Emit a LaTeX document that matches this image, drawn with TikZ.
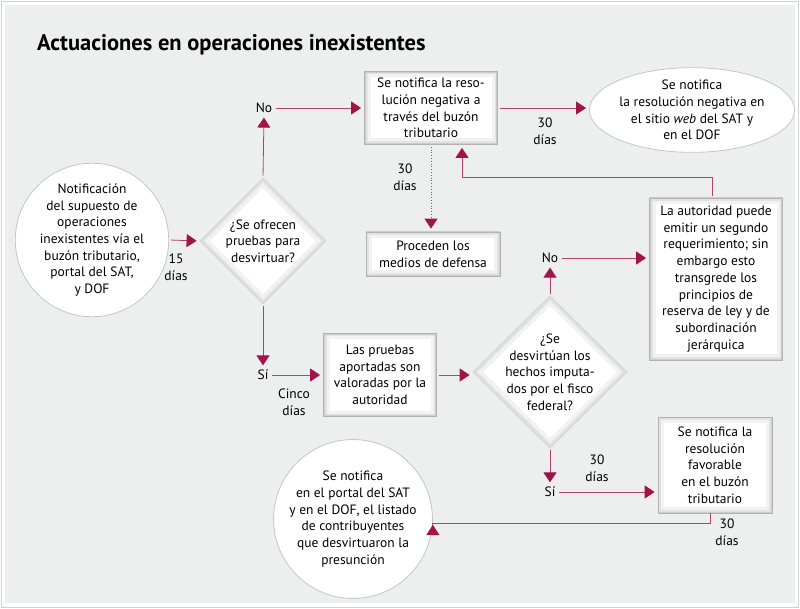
\documentclass[tikz,border=0pt]{standalone}
\usepackage{fontspec}
\setmainfont{PT Sans}
\usetikzlibrary{arrows.meta, shapes.geometric, calc}

\definecolor{bgcol}{RGB}{237,238,238}
\definecolor{arrowcol}{RGB}{160,20,70}
\newcommand{\boxfont}{\fontsize{13.5}{16.7}\selectfont}
\pgfdeclareradialshading{rimshade}{\pgfpoint{0bp}{0bp}}{color(0bp)=(white); color(26bp)=(white); color(30bp)=(gray!28); color(35.4bp)=(gray!50); color(50bp)=(gray!50)}

\tikzset{
    shadowrim/.style={path picture={
        \draw[gray!10, line width=12pt] (path picture bounding box.south west) rectangle (path picture bounding box.north east);
        \draw[gray!22, line width=6pt] (path picture bounding box.south west) rectangle (path picture bounding box.north east);
        \draw[gray!40, line width=2.5pt] (path picture bounding box.south west) rectangle (path picture bounding box.north east);
    }},
    diamondrim/.style={path picture={
        \draw[gray!10, line width=14pt] (path picture bounding box.north) -- (path picture bounding box.east) -- (path picture bounding box.south) -- (path picture bounding box.west) -- cycle;
        \draw[gray!24, line width=6pt] (path picture bounding box.north) -- (path picture bounding box.east) -- (path picture bounding box.south) -- (path picture bounding box.west) -- cycle;
    }},
    box/.style={rectangle, fill=white, draw=gray!60, line width=0.8pt, align=center, font=\boxfont, inner sep=2pt, shadowrim},
    decision/.style={diamond, fill=white, draw=gray!35, line width=0.8pt, align=center, font=\boxfont, inner sep=-4pt, diamondrim},
    roundnote/.style={shade, shading=rimshade, draw=gray!45, line width=0.8pt, align=center, font=\boxfont, inner sep=0pt},
    answer/.style={font=\boxfont, inner sep=1.5pt},
    days/.style={font=\boxfont, align=center, inner sep=0pt},
    flow/.style={draw=arrowcol!80, line width=0.8pt, shorten <=2pt, shorten >=3pt,
        -{Triangle[length=10pt, width=13pt, color=arrowcol]}},
}

\begin{document}
\begin{tikzpicture}[x=1pt, y=-1pt]
\useasboundingbox (0,0) rectangle (800,609);
\fill[white] (0,0) rectangle (800,609);
\draw[gray!35, line width=0.8pt] (1,1) rectangle (798,607);
\fill[bgcol] (5,5) rectangle (795,603);

\node[anchor=base west, font=\fontsize{22.5}{26}\selectfont\bfseries, inner sep=0pt] (title) at (37,51) {Actuaciones en operaciones inexistentes};

% nodos
\node[roundnote, circle, minimum size=130pt] (start) at (92,240)
    {Notificación\\del supuesto de\\operaciones\\inexistentes vía el\\buzón tributario,\\portal del SAT,\\y DOF};
\node[decision, minimum width=126pt, minimum height=126pt] (offer) at (263,241) {¿Se ofrecen\\pruebas para\\desvirtuar?};
\node[box, minimum width=133pt, minimum height=73pt] (negbox) at (431,108)
    {Se notifica la reso-\\lución negativa a\\través del buzón\\tributario};
\node[roundnote, ellipse, minimum width=176pt, minimum height=76pt] (webnote) at (692,110)
    {Se notifica\\la resolución negativa en\\el sitio \emph{web} del SAT y\\en el DOF};
\node[box, minimum width=134pt, minimum height=44pt] (defense) at (433,254) {Proceden los\\medios de defensa};
\node[box, minimum width=133pt, minimum height=162pt] (second) at (716,279)
    {La autoridad puede\\emitir un segundo\\requerimiento; sin\\embargo esto\\transgrede los\\principios de\\reserva de ley y de\\subordinación\\jerárquica};
\node[box, minimum width=113pt, minimum height=83pt] (valued) at (380,375)
    {Las pruebas\\aportadas son\\valoradas por la\\autoridad};
\node[decision, minimum width=154pt, minimum height=152pt] (refuted) at (550,372)
    {¿Se\\desvirtúan los\\hechos imputa-\\dos por el fisco\\federal?};
\node[box, minimum width=114pt, minimum height=96pt] (favbox) at (715,465)
    {Se notifica la\\resolución\\favorable\\en el buzón\\tributario};
\node[roundnote, circle, minimum size=138pt] (listnote) at (353,519)
    {Se notifica\\en el portal del SAT\\y en el DOF, el listado\\de contribuyentes\\que desvirtuaron la\\presunción};

% respuestas
\node[answer] (noA) at (264,108) {No};
\node[answer] (siA) at (263,375) {Sí};
\node[answer] (noB) at (550,258) {No};
\node[answer] (siB) at (550,492) {Sí};

% plazos
\node[days] (d15) at (176,267) {15\\días};
\node[days] (d30a) at (545,131) {30\\días};
\node[days] (d30b) at (405,177) {30\\días};
\node[days] (d5) at (294,402) {Cinco\\días};
\node[days] (d30c) at (597,468) {30\\días};
\node[days] (d30d) at (727,532) {30\\días};

% conectores
\draw[flow] (start.east) -- (offer.west);
\draw[flow] (offer.north) -- (noA.south);
\draw[flow] (noA.east) -- (negbox.west);
\draw[flow] (negbox.east) -- (negbox.east -| webnote.west);
\draw[flow, dotted, line width=1pt] (negbox.south) -- (negbox.south |- defense.north);
\draw[flow] ([xshift=-4pt]second.north) -- ++(0,-20) -| ([xshift=31pt]negbox.south);
\draw[flow] (offer.south) -- (siA.north);
\draw[flow] (siA.east) -- (siA.east -| valued.west);
\draw[flow] (valued.east) -- (valued.east -| refuted.west);
\draw[flow] (refuted.north) -- (noB.south);
\draw[flow] (noB.east) -- (noB.east -| second.west);
\draw[flow] (refuted.south) -- (siB.north);
\draw[flow] (siB.east) -- (siB.east -| favbox.west);
\draw[flow, shorten <=0pt] ([xshift=-5pt]favbox.south) -- ++(0,10) -| ($(listnote.east)+(0,3)$);

\end{tikzpicture}
\end{document}
